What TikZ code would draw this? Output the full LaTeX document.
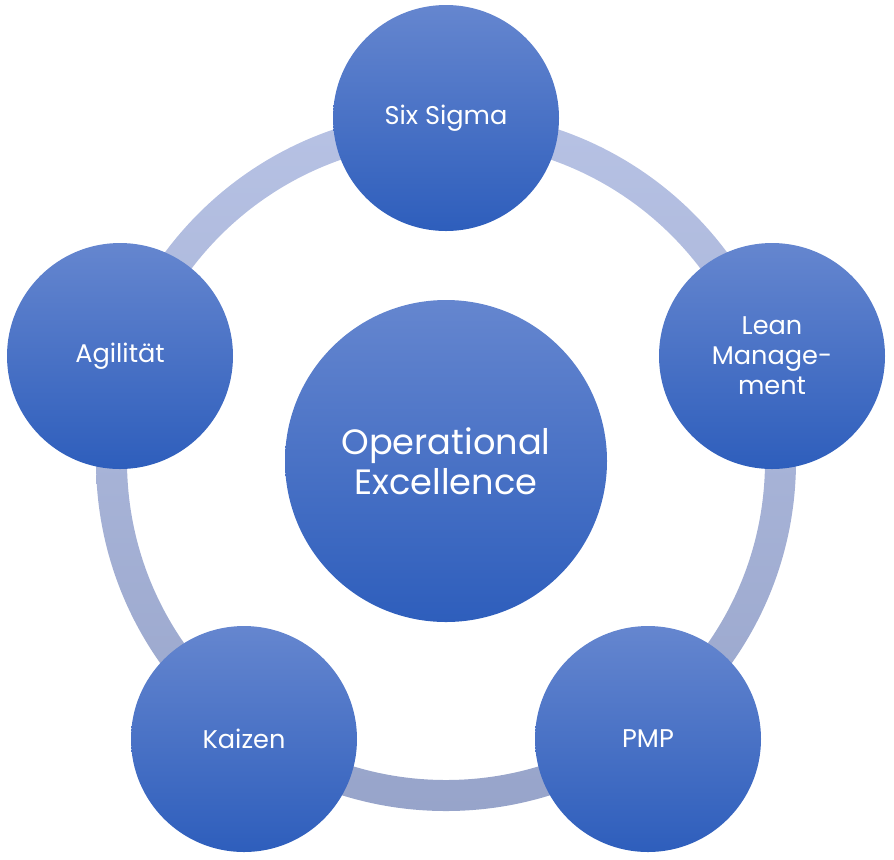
\documentclass[tikz,border=0pt]{standalone}
\usepackage{fontspec}
\setmainfont{Poppins}
\definecolor{blobtop}{HTML}{6586CF}
\definecolor{blobbot}{HTML}{2E5EBC}
\definecolor{ringtop}{HTML}{B7C2E4}
\definecolor{ringbot}{HTML}{97A4CA}
\begin{document}
\begin{tikzpicture}[x=0.5pt,y=-0.5pt,
	blob/.style={circle,inner sep=0pt,minimum size=113pt,top color=blobtop,bottom color=blobbot,
		text=white,align=center,font=\fontsize{12.8}{15}\selectfont},
	core/.style={blob,minimum size=161pt,font=\fontsize{17.6}{20}\selectfont}]
		\useasboundingbox (0,0) rectangle (894,859);
		\coordinate (mid) at (446,461);
		\shade[even odd rule,top color=ringtop,bottom color=ringbot] (mid) circle (350) circle (319);
		\node[core] (oe) at (mid) {Operational\\Excellence};
		\node[blob] (six) at (446,118) {Six Sigma};
		\node[blob] (lean) at (772,356) {Lean\\Manage-\\ment};
		\node[blob] (pmp) at (648,739) {PMP};
		\node[blob] (kaizen) at (244,739) {Kaizen};
		\node[blob] (agil) at (120,356) {Agilität};
\end{tikzpicture}
\end{document}
